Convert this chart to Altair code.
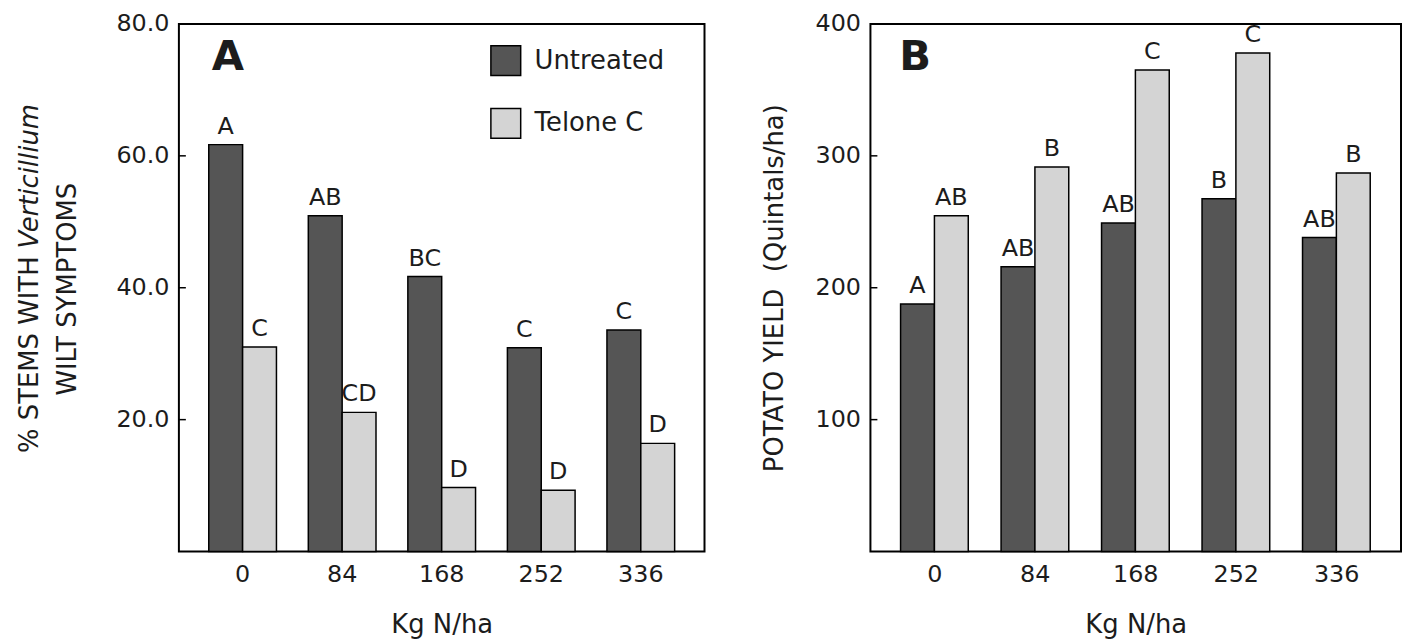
import altair as alt
import pandas as pd

FONT = "DejaVu Sans"
INK = "#1c1c1c"

rates = ["0", "84", "168", "252", "336"]
treatments = ["Untreated", "Telone C"]
bar_colors = ["#555555", "#d4d4d4"]

wilt_untreated = [61.7, 50.9, 41.7, 30.9, 33.6]
wilt_telone = [31.0, 21.1, 9.7, 9.3, 16.4]
wilt_letters_untreated = ["A", "AB", "BC", "C", "C"]
wilt_letters_telone = ["C", "CD", "D", "D", "D"]

yield_untreated = [187.6, 216.0, 249.0, 267.4, 238.0]
yield_telone = [254.5, 291.5, 365.0, 378.0, 287.0]
yield_letters_untreated = ["A", "AB", "AB", "B", "AB"]
yield_letters_telone = ["AB", "B", "C", "C", "B"]

wilt_ticks = [20, 40, 60, 80]
yield_ticks = [100, 200, 300, 400]


def frame(u, t, lu, lt):
    rows = []
    for i, r in enumerate(rates):
        rows.append({"rate": r, "treatment": "Untreated", "value": u[i], "letter": lu[i]})
        rows.append({"rate": r, "treatment": "Telone C", "value": t[i], "letter": lt[i]})
    return pd.DataFrame(rows)


dfA = frame(wilt_untreated, wilt_telone, wilt_letters_untreated, wilt_letters_telone)
dfB = frame(yield_untreated, yield_telone, yield_letters_untreated, yield_letters_telone)

x_axis = alt.Axis(
    title="Kg N/ha", labelAngle=0, domain=False, ticks=False, tickSize=0,
    labelPadding=11, titlePadding=25, labelFontSize=24, titleFontSize=26,
    titleFontWeight="normal", labelFont=FONT, titleFont=FONT,
    labelColor=INK, titleColor=INK, grid=False,
)


def panel(df, domain, ticks, fmt, ytitle, letter, letter_x, show_legend):
    x = alt.X("rate:N", sort=rates, scale=alt.Scale(paddingInner=0.32, paddingOuter=0.3), axis=x_axis)
    xo = alt.XOffset("treatment:N", sort=treatments, scale=alt.Scale(paddingInner=0, paddingOuter=0))
    yaxis = alt.Axis(
        values=ticks, format=fmt, domain=False, ticks=False, tickSize=0, grid=False,
        labelPadding=10, labelFontSize=24, labelFont=FONT, labelColor=INK,
        title=ytitle if ytitle else None, titleFont=FONT, titleFontSize=26,
        titleFontWeight="normal", titleColor=INK, titlePadding=28,
    )
    y = alt.Y("value:Q", scale=alt.Scale(domain=domain, nice=False, zero=True), axis=yaxis)
    legend = None
    if show_legend:
        legend = alt.Legend(
            title=None, orient="none", legendX=313, legendY=21, symbolType="square",
            symbolSize=900, symbolStrokeColor="black", symbolStrokeWidth=1.5,
            labelFontSize=26, labelFont=FONT, labelColor=INK, labelOffset=13,
            rowPadding=27, symbolOpacity=1,
        )
    color = alt.Color("treatment:N", sort=treatments,
                      scale=alt.Scale(domain=treatments, range=bar_colors), legend=legend)
    base = alt.Chart(df).encode(x=x, xOffset=xo, y=y)
    bars = base.mark_bar(stroke="black", strokeWidth=1.5, opacity=1).encode(color=color)
    labels = base.mark_text(baseline="bottom", dy=-6, fontSize=24, font=FONT, color=INK).encode(text="letter:N")
    tick_rules = alt.Chart(pd.DataFrame({"v": ticks})).mark_rule(color="black", strokeWidth=1.5).encode(
        y=alt.Y("v:Q", scale=alt.Scale(domain=domain, nice=False, zero=True)),
        x=alt.value(0), x2=alt.value(7))
    tag = alt.Chart(pd.DataFrame({"t": [letter]})).mark_text(
        fontSize=42, fontWeight="bold", font=FONT, color=INK, align="left", baseline="alphabetic"
    ).encode(text="t:N", x=alt.value(letter_x), y=alt.value(46))
    return [bars, labels, tick_rules, tag]


layersA = panel(dfA, [0, 80], wilt_ticks, ".1f", None, "A", 33, True)
titleA1 = alt.Chart(pd.DataFrame({"t": ["% STEMS WITH"]})).mark_text(
    angle=270, fontSize=26, font=FONT, color=INK, align="right", baseline="middle"
).encode(text="t:N", x=alt.value(-150), y=alt.value(234))
titleA2 = alt.Chart(pd.DataFrame({"t": ["Verticillium"]})).mark_text(
    angle=270, fontSize=26, font=FONT, color=INK, align="left", baseline="middle", fontStyle="italic"
).encode(text="t:N", x=alt.value(-150), y=alt.value(226))
titleA3 = alt.Chart(pd.DataFrame({"t": ["WILT SYMPTOMS"]})).mark_text(
    angle=270, fontSize=26, font=FONT, color=INK, align="center", baseline="middle"
).encode(text="t:N", x=alt.value(-112), y=alt.value(267))

chartA = alt.layer(*layersA, titleA1, titleA2, titleA3).properties(width=529, height=531)

layersB = panel(dfB, [0, 400], yield_ticks, "d", "POTATO YIELD\u00a0\u00a0(Quintals/ha)", "B", 29, False)
chartB = alt.layer(*layersB).properties(width=534, height=531)

chart = alt.hconcat(chartA, chartB, spacing=55).resolve_scale(color="independent").properties(
    padding={"left": 8, "top": 1, "right": 0, "bottom": 0}
).configure_view(stroke="black", strokeWidth=2)

chart.save("out.html", embed_options={"renderer": "svg", "actions": False})
